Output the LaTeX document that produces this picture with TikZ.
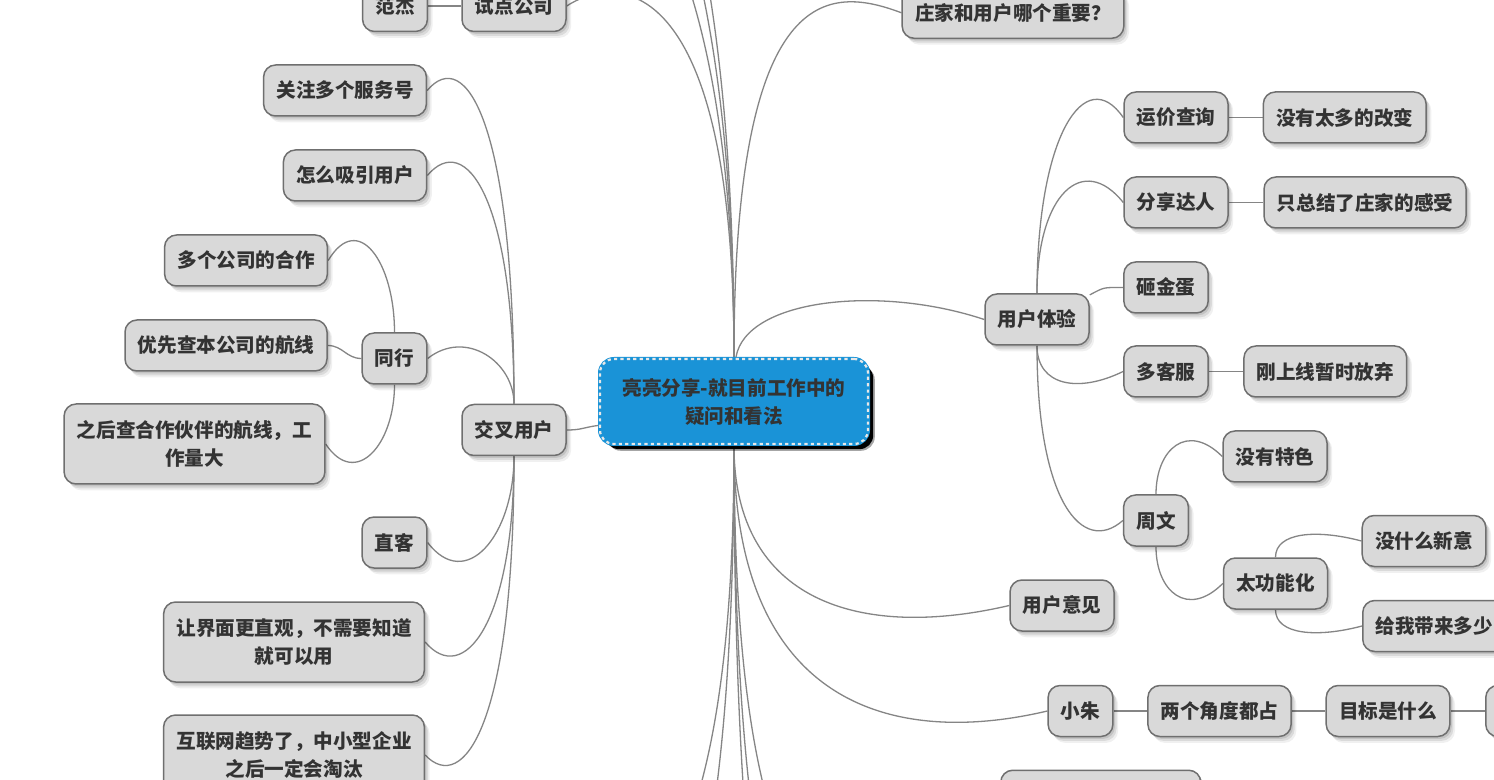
\documentclass[tikz,border=0pt]{standalone}
\usepackage{fontspec}
\setmainfont{Noto Sans CJK SC}
\usetikzlibrary{shadows}
\definecolor{nfill}{HTML}{D9D9D9}
\definecolor{nborder}{HTML}{6F6F6F}
\definecolor{ntext}{HTML}{333333}
\definecolor{conn}{HTML}{858585}
\definecolor{cblue}{HTML}{1A93D7}
\definecolor{cdash}{HTML}{E8E8E8}
\pgfdeclarelayer{back}
\pgfdeclarelayer{bg}
\pgfsetlayers{back,bg,main}
\begin{document}
\begin{tikzpicture}[x=0.5pt,y=-0.5pt,
  softshadow/.style={
    drop shadow={shadow xshift=1pt, shadow yshift=-1.2pt, opacity=0.10, fill=black},
    drop shadow={shadow xshift=1.8pt, shadow yshift=-2.2pt, opacity=0.09, fill=black},
    drop shadow={shadow xshift=2.6pt, shadow yshift=-3.2pt, opacity=0.06, fill=black}},
  topic/.style={draw=nborder, line width=0.75pt, fill=nfill, rounded corners=6pt,
    minimum height=25.5pt, inner xsep=6.4pt, inner ysep=2pt, text=ntext,
    font=\fontsize{9.8pt}{14pt}\selectfont\bfseries, align=center, softshadow},
  tall/.style={minimum height=40pt},
  central/.style={fill=cblue, draw=cblue, line width=2pt, rounded corners=7pt,
    minimum width=134pt, minimum height=42.5pt, text=ntext, align=center,
    font=\fontsize{9.8pt}{14pt}\selectfont\bfseries,
    drop shadow={shadow xshift=3.4pt, shadow yshift=-3.4pt, opacity=0.35, fill=black},
    drop shadow={shadow xshift=2.6pt, shadow yshift=-2.6pt, opacity=1, fill=black},
    postaction={draw=cdash, line width=1.1pt, dash pattern=on 1.6pt off 1.6pt}},
  link/.style={draw=conn, line width=0.65pt},
]
\begin{pgfonlayer}{back}
\fill[white] (0,0) rectangle (1494,780);
\end{pgfonlayer}
\useasboundingbox (0,0) rectangle (1494,780);

% central topic
\node[central] (c) at (734,401.5) {亮亮分享-就目前工作中的\\疑问和看法};

% left side
\node[topic] (fj) at (395,6) {范杰};
\node[topic] (sd) at (514,6) {试点公司};
\node[topic] (gz) at (345,90.5) {关注多个服务号};
\node[topic] (zm) at (355,175.5) {怎么吸引用户};
\node[topic] (dg) at (246,260.5) {多个公司的合作};
\node[topic] (yx) at (226,345.5) {优先查本公司的航线};
\node[topic] (tx) at (394.5,358.5) {同行};
\node[topic,tall] (zh) at (194.5,444) {之后查合作伙伴的航线，工\\作量大};
\node[topic] (jc) at (514,430) {交叉用户};
\node[topic] (zk) at (394.5,542.5) {直客};
\node[topic,tall] (rj) at (294,642) {让界面更直观，不需要知道\\就可以用};
\node[topic,tall] (hl) at (294,755) {互联网趋势了，中小型企业\\之后一定会淘汰};

% right side
\node[topic] (zj) at (1013,12.8) {庄家和用户哪个重要？};
\node[topic] (uy) at (1037,319.5) {用户体验};
\node[topic] (yj) at (1176,117.5) {运价查询};
\node[topic] (mt) at (1344.7,117.5) {没有太多的改变};
\node[topic] (fx) at (1176,202.5) {分享达人};
\node[topic] (zz) at (1365,202.5) {只总结了庄家的感受};
\node[topic] (zd) at (1166,287.5) {砸金蛋};
\node[topic] (dk) at (1166,371.5) {多客服};
\node[topic] (gs) at (1325.3,371.5) {刚上线暂时放弃};
\node[topic] (zw) at (1156,520.5) {周文};
\node[topic] (ts) at (1275,456.5) {没有特色};
\node[topic] (tg) at (1275.5,583.5) {太功能化};
\node[topic] (sm) at (1424,541) {没什么新意};
\node[topic,anchor=west,text width=90pt,align=left] (gw) at (1362,626) {给我带来多少};
\node[topic] (yy) at (1062,605.5) {用户意见};
\node[topic] (xz) at (1080.5,711) {小朱};
\node[topic] (lg) at (1219.5,711) {两个角度都占};
\node[topic] (mb) at (1388,711) {目标是什么};
\node[topic,anchor=west,minimum width=70pt] (nx) at (1485,711) {};
\node[topic,anchor=north west,minimum width=100pt] (bb) at (1000,769.5) {};

% off-canvas free ends
\coordinate (u1) at (560,-150);
\coordinate (u2) at (540,-250);
\coordinate (u3) at (560,-280);
\coordinate (d1) at (1000,950);
\coordinate (d2) at (1000,1100);
\coordinate (d3) at (1000,1250);
\coordinate (f1) at (450,950);
\coordinate (f2) at (450,1100);

\begin{pgfonlayer}{bg}
% central connectors
\draw[link] (jc.east) .. controls +(15,0) and +(-15,2) .. (c.190);
\draw[link] (c.north) .. controls +(0,-378) and +(54,-35) .. (sd.east);
\draw[link] (c.north) .. controls +(0,-378) and +(-72,-27) .. (zj.west);
\draw[link] (c.north) .. controls +(0,-452) and +(38,-40) .. (u1);
\draw[link] (c.north) .. controls +(0,-547) and +(38,-40) .. (u2);
\draw[link] (c.north) .. controls +(0,-574) and +(38,-40) .. (u3);
\draw[link] ([xshift=1pt]c.north) .. controls +(10,-58) and +(-105,-35) .. (uy.west);
\draw[link] (c.south) .. controls +(0,155) and +(-150,35) .. (yy.west);
\draw[link] (c.south) .. controls +(0,265) and +(-148,35) .. (xz.west);
\draw[link] (c.south) .. controls +(0,505) and +(-150,35) .. (d1);
\draw[link] (c.south) .. controls +(0,655) and +(-150,35) .. (d2);
\draw[link] (c.south) .. controls +(0,805) and +(-150,35) .. (d3);
\draw[link] (c.south) .. controls +(0,505) and +(150,35) .. (f1);
\draw[link] (c.south) .. controls +(0,655) and +(150,35) .. (f2);

% left branches
\draw[link] (fj.east) -- (sd.west);
\draw[link] (jc.north) .. controls +(0,-283) and +(38,-45) .. (gz.east);
\draw[link] (jc.north) .. controls +(0,-206) and +(38,-45) .. (zm.east);
\draw[link] (jc.north) .. controls +(0,-42) and +(38,-30) .. (tx.east);
\draw[link] (jc.south) .. controls +(0,80) and +(38,50) .. (zk.east);
\draw[link] (jc.south) .. controls +(0,168) and +(38,45) .. (rj.east);
\draw[link] (jc.south) .. controls +(0,270) and +(38,40) .. (hl.east);
\draw[link] (tx.north) .. controls +(0,-70) and +(30,-50) .. (dg.east);
\draw[link] (tx.west) .. controls +(-15,0) and +(15,0) .. (yx.east);
\draw[link] (tx.south) .. controls +(0,60) and +(30,45) .. (zh.east);

% right branches
\draw[link] (uy.north) .. controls +(0,-158) and +(-38,-55) .. (yj.west);
\draw[link] (uy.north) .. controls +(0,-100) and +(-40,-50) .. (fx.west);
\draw[link] (uy.25) .. controls +(15,-8) and +(-20,0) .. (zd.west);
\draw[link] (uy.south) .. controls +(0,40) and +(-45,22) .. (dk.west);
\draw[link] (uy.south) .. controls +(0,157) and +(-40,35) .. (zw.west);
\draw[link] (yj.east) -- (mt.west);
\draw[link] (fx.east) -- (zz.west);
\draw[link] (dk.east) -- (gs.west);
\draw[link] (zw.north) .. controls +(0,-45) and +(-35,-35) .. (ts.west);
\draw[link] (zw.south) .. controls +(0,45) and +(-35,35) .. (tg.west);
\draw[link] (tg.north) .. controls +(0,-25) and +(-45,-12) .. (sm.west);
\draw[link] (tg.south) .. controls +(0,25) and +(-45,12) .. (gw.west);
\draw[link] (xz.east) -- (lg.west);
\draw[link] (lg.east) -- (mb.west);
\draw[link] (mb.east) -- (nx.west);
\end{pgfonlayer}
\end{tikzpicture}
\end{document}
